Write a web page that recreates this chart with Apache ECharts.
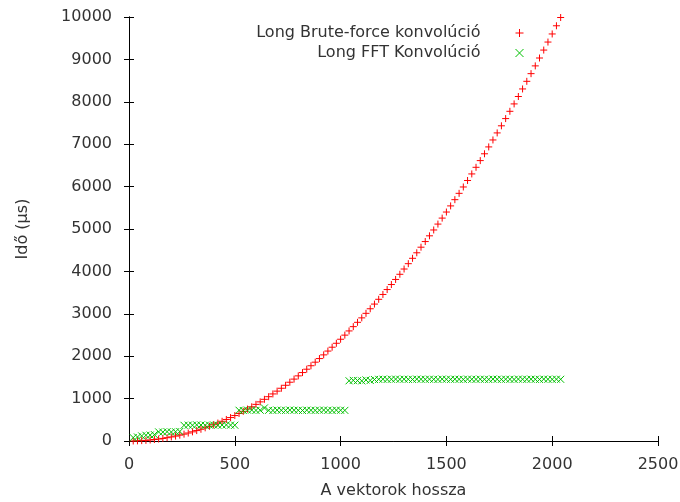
<!DOCTYPE html>
<html>
<head>
<meta charset="utf-8">
<script src="https://cdn.jsdelivr.net/npm/echarts@6/dist/echarts.min.js"></script>
<style>html,body{margin:0;padding:0;background:#fff}#c{width:680px;height:502px}</style>
</head>
<body>
<div id="c"></div>
<script>
// Vector lengths (x)
const sizes = [20,40,60,80,100,120,140,160,180,200,220,240,260,280,300,320,340,360,380,400,
420,440,460,480,500,520,540,560,580,600,620,640,660,680,700,720,740,760,780,800,
820,840,860,880,900,920,940,960,980,1000,1020,1040,1060,1080,1100,1120,1140,1160,1180,1200,
1220,1240,1260,1280,1300,1320,1340,1360,1380,1400,1420,1440,1460,1480,1500,1520,1540,1560,1580,1600,
1620,1640,1660,1680,1700,1720,1740,1760,1780,1800,1820,1840,1860,1880,1900,1920,1940,1960,1980,2000,
2020,2040];
// Long Brute-force konvolúció (µs)
const bruteForce = [1,4,9,15,24,35,47,61,78,96,116,138,162,188,216,246,277,311,347,384,
423,465,508,553,600,649,700,753,807,864,923,983,1045,1110,1176,1244,1314,1386,1460,1536,
1614,1693,1775,1859,1944,2031,2121,2212,2305,2400,2497,2596,2697,2799,2904,3011,3119,3229,3342,3456,
3572,3690,3810,3932,4056,4182,4309,4439,4571,4704,4839,4977,5116,5257,5400,5545,5692,5841,5991,6144,
6299,6455,6613,6774,6936,7100,7266,7434,7604,7776,7950,8125,8303,8483,8664,8847,9033,9220,9409,9600,
9793,9988];
// Long FFT Konvolúció (µs)
const fft = [80,95,120,135,140,150,
215,210,220,212,218,225,
370,375,372,380,376,370,374,378,372,376,380,374,372,
725,720,728,730,722,726,780,724,720,728,725,722,730,726,724,720,728,725,722,726,730,724,720,728,725,722,
1420,1430,1425,1418,1440,1428,1450,1455,1458,1452,
1456,1460,1454,1458,1455,1452,1460,1456,1454,1458,
1455,1452,1460,1456,1454,1458,1455,1452,1460,1456,
1454,1458,1455,1452,1460,1456,1454,1458,1455,1452,
1460,1456,1454,1458,1455,1452,1460,1456,1454,1458,1455];
const xTicks = {min: 0, max: 2500, interval: 500};
const yTicks = {min: 0, max: 10000, interval: 1000};
const seriesNames = ['Long Brute-force konvolúció', 'Long FFT Konvolúció'];

const FONT = 'DejaVu Sans';
const TXT = '#333';
const plusPath = 'path://M0,5L10,5M5,0L5,10';
const crossPath = 'path://M0,0L10,10M10,0L0,10';
const plain = v => String(v);

const chart = echarts.init(document.getElementById('c'), null, {renderer: 'canvas'});
const axisCommon = {
  axisLine: {show: true, lineStyle: {color: '#000', width: 1}},
  axisTick: {show: true, inside: true, length: 5, lineStyle: {color: '#000'}},
  splitLine: {show: false}
};
chart.setOption({
  animation: false,
  backgroundColor: '#fff',
  textStyle: {fontFamily: FONT},
  grid: {left: 129, right: 22, top: 17, bottom: 61, containLabel: false, outerBoundsMode: 'none'},
  legend: {
    orient: 'vertical', align: 'right', right: 151, top: 20,
    itemWidth: 8, itemHeight: 8, itemGap: 4,
    textStyle: {fontFamily: FONT, fontSize: 16, color: TXT, lineHeight: 16, padding: [0, 30, 0, 0]},
    data: [
      {name: seriesNames[0], icon: plusPath, itemStyle: {color: '#ff0000', borderColor: '#ff0000', borderWidth: 1}},
      {name: seriesNames[1], icon: crossPath, itemStyle: {color: '#00c000', borderColor: '#00c000', borderWidth: 1}}
    ]
  },
  xAxis: [
    Object.assign({type: 'value', position: 'bottom', min: xTicks.min, max: xTicks.max, interval: xTicks.interval,
      name: 'A vektorok hossza', nameLocation: 'middle', nameGap: 42,
      nameTextStyle: {fontFamily: FONT, fontSize: 16, color: TXT},
      axisLabel: {fontFamily: FONT, fontSize: 16, color: TXT, margin: 16, formatter: plain}}, axisCommon),
    Object.assign({type: 'value', position: 'top', min: xTicks.min, max: xTicks.max, interval: xTicks.interval,
      axisLabel: {show: false}}, axisCommon)
  ],
  yAxis: [
    Object.assign({type: 'value', position: 'left', min: yTicks.min, max: yTicks.max, interval: yTicks.interval,
      name: 'Idő (μs)', nameLocation: 'middle', nameGap: 98, nameRotate: 90,
      nameTextStyle: {fontFamily: FONT, fontSize: 16, color: TXT},
      axisLabel: {fontFamily: FONT, fontSize: 16, color: TXT, margin: 17, formatter: plain}}, axisCommon),
    Object.assign({type: 'value', position: 'right', min: yTicks.min, max: yTicks.max, interval: yTicks.interval,
      axisLabel: {show: false}}, axisCommon)
  ],
  series: [
    {
      name: seriesNames[0], type: 'scatter', xAxisIndex: 0, yAxisIndex: 0,
      symbol: plusPath, symbolSize: 7,
      itemStyle: {color: '#ff0000', borderColor: '#ff0000', borderWidth: 1, opacity: 1},
      emphasis: {disabled: true},
      data: sizes.map((n, i) => [n, bruteForce[i]])
    },
    {
      name: seriesNames[1], type: 'scatter', xAxisIndex: 0, yAxisIndex: 0,
      symbol: crossPath, symbolSize: 7,
      itemStyle: {color: '#00c000', borderColor: '#00c000', borderWidth: 1, opacity: 1},
      emphasis: {disabled: true},
      data: sizes.map((n, i) => [n, fft[i]])
    }
  ]
});
</script>
</body>
</html>
